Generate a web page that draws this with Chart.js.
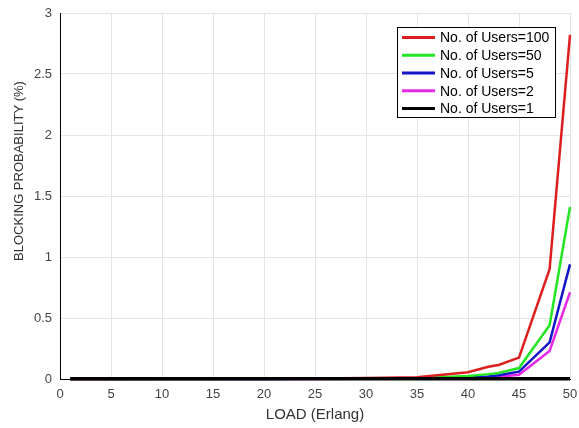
<!DOCTYPE html>
<html>
<head>
<meta charset="utf-8">
<script src="https://cdn.jsdelivr.net/npm/chart.js@4"></script>
<style>
  html, body { margin: 0; padding: 0; background: #fff; }
  #wrap { width: 579px; height: 428px; }
</style>
</head>
<body>
<div id="wrap"><canvas id="blockingChart" width="579" height="428"></canvas></div>
<script>
// load in Erlang
const loads = [1, 5, 10, 15, 20, 25, 30, 35, 40, 42, 43, 45, 48, 50];

// blocking probability (%) per number of users
const users100 = [0.001, 0.001, 0.002, 0.003, 0.004, 0.005, 0.008, 0.015, 0.055, 0.1, 0.115, 0.175, 0.9, 2.82];
const users50 = [0, 0, 0.001, 0.001, 0.002, 0.003, 0.004, 0.007, 0.025, 0.04, 0.05, 0.09, 0.44, 1.41];
const users5 = [0, 0, 0, 0.001, 0.001, 0.002, 0.003, 0.005, 0.012, 0.02, 0.03, 0.06, 0.3, 0.94];
const users2 = [0, 0, 0, 0, 0.001, 0.001, 0.002, 0.003, 0.006, 0.012, 0.018, 0.035, 0.23, 0.71];
const users1 = [0.002, 0.002, 0.002, 0.002, 0.002, 0.002, 0.002, 0.002, 0.002, 0.002, 0.002, 0.002, 0.002, 0.002];

const seriesLabels = ['No. of Users=100', 'No. of Users=50', 'No. of Users=5', 'No. of Users=2', 'No. of Users=1'];
const seriesValues = [users100, users50, users5, users2, users1];
const seriesColors = ['#dc1e1e', '#22e622', '#1414c8', '#e628e6', '#000000'];

const fontFamily = "Arial, 'Liberation Sans', sans-serif";

// 범례 (그래프 안쪽 오른쪽 위)
const legendBox = {
    id: 'legendBox',
    afterDatasetsDraw(chart) {
        const {ctx, chartArea} = chart;
        const x = chartArea.right - 173;
        const y = chartArea.top + 14;
        const w = 158, h = 90;

        ctx.save();
        ctx.fillStyle = '#ffffff';
        ctx.fillRect(x, y, w, h);
        ctx.strokeStyle = '#000000';
        ctx.lineWidth = 1;
        ctx.strokeRect(x + 0.5, y + 0.5, w, h);

        ctx.font = '14px ' + fontFamily;
        ctx.textBaseline = 'middle';
        ctx.textAlign = 'left';
        seriesLabels.forEach((label, i) => {
            const cy = y + 10.5 + i * 17.75;
            ctx.strokeStyle = seriesColors[i];
            ctx.lineWidth = 3;
            ctx.beginPath();
            ctx.moveTo(x + 5, cy);
            ctx.lineTo(x + 38, cy);
            ctx.stroke();
            ctx.fillStyle = '#000000';
            ctx.fillText(label, x + 43, cy + 1);
        });
        ctx.restore();
    }
};

// 세로축 제목
const yTitle = {
    id: 'yTitle',
    afterDraw(chart) {
        const {ctx} = chart;
        ctx.save();
        ctx.translate(19, 171);
        ctx.rotate(-Math.PI / 2);
        ctx.font = '13px ' + fontFamily;
        ctx.fillStyle = '#333333';
        ctx.textAlign = 'center';
        ctx.textBaseline = 'middle';
        ctx.fillText('BLOCKING PROBABILITY (%)', 0, 0);
        ctx.restore();
    }
};

const datasets = seriesLabels.map((label, i) => ({
    label: label,
    data: loads.map((x, j) => ({x: x, y: seriesValues[i][j]})),
    borderColor: seriesColors[i],
    backgroundColor: seriesColors[i],
    borderWidth: i === 4 ? 3.5 : 2.5,
    pointRadius: 0,
    tension: 0,
    clip: 6,
    order: i === 4 ? 0 : i + 1
}));

const ctx = document.getElementById('blockingChart').getContext('2d');
const blockingChart = new Chart(ctx, {
    type: 'line',
    data: { datasets: datasets },
    options: {
        responsive: false,
        animation: false,
        layout: { padding: { left: 0, right: 9, top: 13, bottom: 0 } },
        plugins: {
            legend: { display: false },
            tooltip: { enabled: false }
        },
        scales: {
            x: {
                type: 'linear',
                min: 0,
                max: 50,
                ticks: {
                    stepSize: 5,
                    padding: 8,
                    color: '#444444',
                    font: { family: fontFamily, size: 13 },
                    maxRotation: 0
                },
                grid: { color: '#e4e4e4', drawTicks: false },
                border: { color: '#000000', width: 1 },
                title: {
                    display: true,
                    text: 'LOAD (Erlang)',
                    color: '#333333',
                    font: { family: fontFamily, size: 15 },
                    padding: { top: 0, bottom: 4 }
                },
                afterFit(scale) {
                    scale.height = 49;
                    scale.paddingLeft = 0;
                    scale.paddingRight = 0;
                }
            },
            y: {
                min: 0,
                max: 3,
                ticks: {
                    stepSize: 0.5,
                    padding: 8,
                    color: '#444444',
                    font: { family: fontFamily, size: 13 },
                    callback: (value) => String(value)
                },
                grid: { color: '#e4e4e4', drawTicks: false },
                border: { color: '#000000', width: 1 },
                afterFit(scale) {
                    scale.width = 60;
                    scale.paddingTop = 0;
                    scale.paddingBottom = 0;
                }
            }
        }
    },
    plugins: [legendBox, yTitle]
});
</script>
</body>
</html>
